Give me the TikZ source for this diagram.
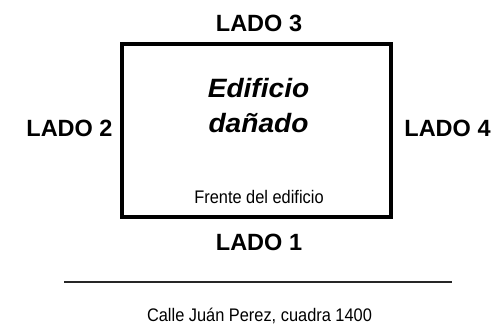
\documentclass[tikz,border=0pt]{standalone}
\usepackage{fontspec}
\setmainfont{Liberation Sans}
\newfontfamily\widefont[FakeStretch=1.06]{Liberation Sans}
\newfontfamily\narrowfont[FakeStretch=0.9]{Liberation Sans}
\begin{document}
\begin{tikzpicture}[x=1pt,y=-1pt,
  lado/.style={anchor=base,inner sep=0pt,font=\fontsize{23.5}{26}\selectfont\bfseries},
  titulo/.style={anchor=base,inner sep=0pt,font=\widefont\fontsize{26.5}{28}\selectfont\bfseries\itshape},
  nota/.style={anchor=base,inner sep=0pt,font=\narrowfont\fontsize{18.2}{20}\selectfont},
  edificio/.style={draw=black,line width=4pt},
  calle/.style={draw=black!85,line width=2pt}]
\useasboundingbox (0,0) rectangle (495,334);
\path[edificio] (122,44.5) rectangle (391,217);
\node[lado] (l3) at (259,31.7) {LADO 3};
\node[lado] (l2) at (69.5,136.7) {LADO 2};
\node[lado] (l4) at (447.5,136.7) {LADO 4};
\node[lado] (l1) at (259,250) {LADO 1};
\node[titulo] (t1) at (258.5,98) {Edificio};
\node[titulo] (t2) at (258.5,132.7) {dañado};
\node[nota] (frente) at (259,203) {Frente del edificio};
\coordinate (ca) at (64,282);
\coordinate (cb) at (452,282);
\draw[calle] (ca) -- (cb);
\node[nota] (calle) at (259.5,321.7) {Calle Juán Perez, cuadra 1400};
\end{tikzpicture}
\end{document}
